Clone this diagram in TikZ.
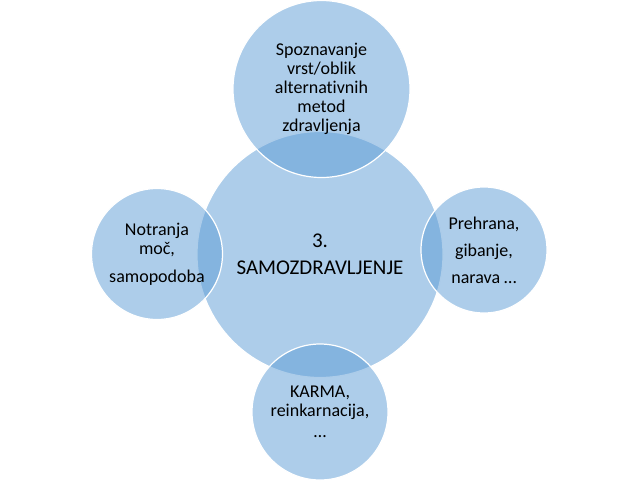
\documentclass[tikz,border=0pt]{standalone}
\usepackage{fontspec}
\setmainfont{Carlito}[Ligatures=NoCommon]
\usepackage{tikz}
\definecolor{vennblue}{RGB}{91,155,213}

\begin{document}
\begin{tikzpicture}[x=1pt,y=-1pt,
  bub/.style={circle,draw=white,line width=1.2pt,fill=vennblue,fill opacity=0.5,
     text opacity=1,text=black,align=center,inner sep=0pt,minimum size=#1,
     font=\fontsize{18}{19}\selectfont},
  bub/.default=130pt]
\useasboundingbox (0,0) rectangle (640,480);
\node[bub=246pt,font=\fontsize{21}{23}\selectfont] (core) at (320,254.5) {3.\\[4pt] SAMOZDRAVLJENJE};
\node[bub=177pt] (methods) at (321.5,89) {Spoznavanje\\ vrst/oblik\\ alternativnih\\ metod\\ zdravljenja};
\node[bub=131pt] (inner) at (157,254) {Notranja\\ moč,\\[9pt] samopodoba};
\node[bub=126pt] (food) at (484,250) {Prehrana,\\[8pt] gibanje,\\[8pt] narava …};
\node[bub=136pt] (karma) at (320,412) {KARMA,\\ reinkarnacija,\\[2pt] …};
\end{tikzpicture}
\end{document}
